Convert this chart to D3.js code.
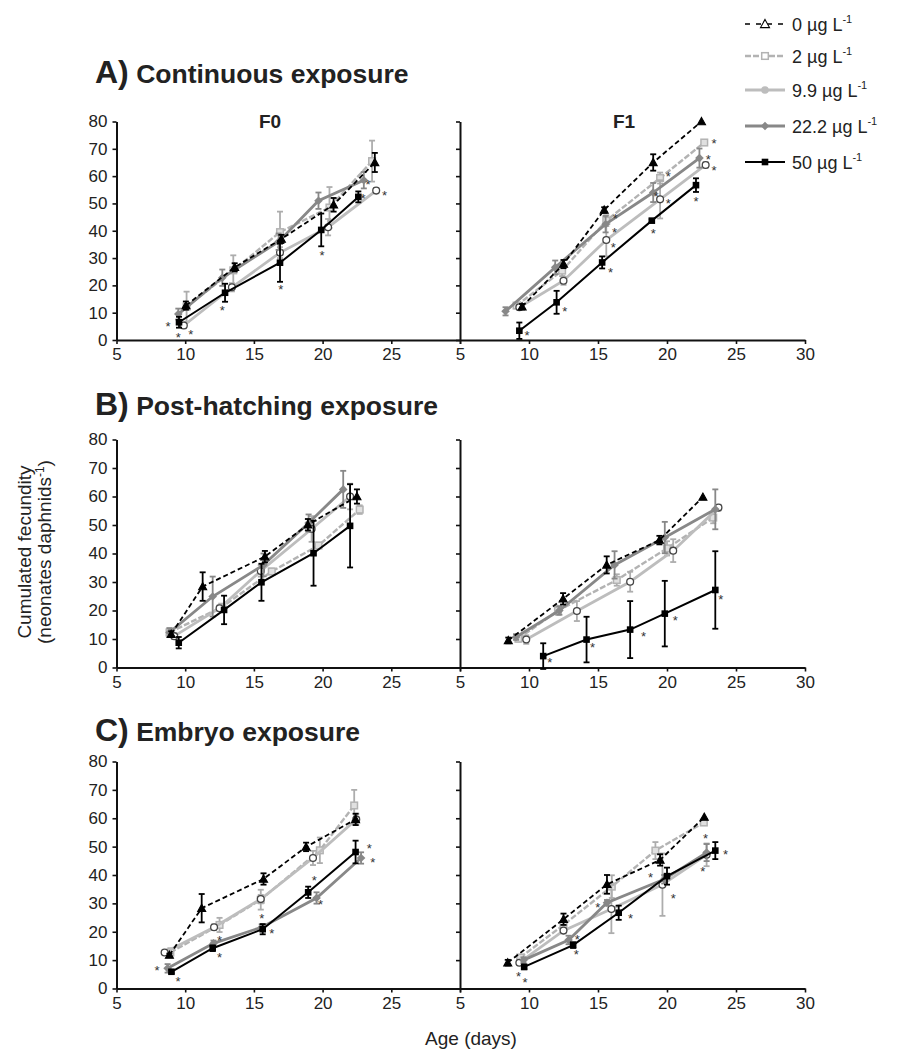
<!DOCTYPE html>
<html><head><meta charset="utf-8">
<script src="https://cdn.jsdelivr.net/npm/d3@7"></script>
<style>
body{margin:0;background:#fff}
svg{display:block}
text{font-family:"Liberation Sans",Arial,sans-serif}
</style>
</head><body>
<svg id="c" width="899" height="1051"></svg>
<script>
// ---------------- DATA ----------------
const doses = ["0", "2", "9.9", "22.2", "50"];
const xTickValues = [5, 10, 15, 20, 25, 30];
const yTickValues = [0, 10, 20, 30, 40, 50, 60, 70, 80];
const panelLetters = ["A)", "B)", "C)"];
const panelNames = ["Continuous exposure", "Post-hatching exposure", "Embryo exposure"];
const genLabels = ["F0", "F1"];

// rows = doses 0, 2, 9.9, 22.2, 50
const A_F0_age  = [[10.05,13.6,17.0,20.8,23.8],[10.1,13.5,16.9,20.5,23.6],[9.9,13.4,16.9,20.4,23.9],[9.5,12.7,16.8,19.7,23.0],[9.55,12.9,16.9,19.9,22.6]];
const A_F0_mean = [[12.6,26.6,37,49.5,65],[12.2,25.5,39.5,48.5,65.5],[5.3,19.3,32,41.3,54.7],[9.5,22.8,36,51,58.5],[6.5,17.3,28.3,40.3,52.4]];
const A_F0_err  = [[1.5,1.5,1.5,2.5,3.5],[5.5,5.5,7.5,7.5,7.5],[1,1.5,2,3,1],[2,3,3,3,3],[2,3.3,7,6,2]];
const A_F0_stars = [[8.75,5.8],[9.5,1.5],[10.4,2.6],[12.7,11.7],[16.95,19.3],[19.95,31.8],[22.95,52.5],[23.3,57.5],[24.5,53.7]];

const A_F1_age  = [[9.5,12.5,15.45,19.0,22.5],[9.1,12.4,15.6,19.5,22.7],[9.3,12.5,15.6,19.5,22.8],[8.3,11.9,15.55,19.0,22.35],[9.3,12.0,15.3,18.9,22.1]];
const A_F1_mean = [[12.2,27.8,47.6,65,80],[12.6,25.4,43.7,59.3,72.3],[12,21.7,36.6,51.5,64.1],[10.5,26.6,42.4,54,66.6],[3.4,13.8,28.4,43.7,56.7]];
const A_F1_err  = [[1,1.5,1,3,0],[1,2,2,2,0],[1,1.5,6,7,1],[1.5,2.5,3,3.5,3.5],[3,4.2,2.2,0.5,2.5]];
const A_F1_stars = [[9.85,2.2],[12.6,11],[15.9,25.6],[19.0,39.8],[22.1,51.5],[16.1,34.5],[16.2,40.2],[16.25,45.2],[20.1,50.7],[20.1,60.5],[19.2,53.4],[23.4,72.7],[23.0,66.8],[23.4,62.8]];

const B_F0_age  = [[8.98,11.27,15.8,18.93,22.5],[8.86,12.7,16.3,19.7,22.7],[9.2,12.5,15.5,19.2,22.0],[8.86,12.0,15.7,18.98,21.5],[9.53,12.83,15.55,19.34,22.0]];
const B_F0_mean = [[11.7,28.4,38.9,50.1,60],[12.3,21.3,33.7,42.8,55.4],[11,20.8,33.9,48.6,60],[12.3,24.9,36,50.7,62.5],[8.7,20.2,29.9,40.1,49.7]];
const B_F0_err  = [[1,5,2,2,2.5],[1.5,1,1,1,1.5],[1,1,2,4.5,4.5],[1.5,7,4,3,6.5],[2,5,6.5,11.4,14.6]];
const B_F0_stars = [];

const B_F1_age  = [[8.5,12.47,15.63,19.45,22.6],[9.23,12.1,16.36,20.0,23.35],[9.8,13.47,17.33,20.45,23.73],[9.06,12.2,16.2,19.84,23.5],[11.03,14.17,17.33,19.84,23.5]];
const B_F1_mean = [[9.5,24.1,36,44.7,59.8],[10.1,20,30.7,41.8,52.6],[9.8,19.8,30.1,41,56.1],[10.7,20,36,45.6,55.5],[4,9.8,13.3,18.9,27.2]];
const B_F1_err  = [[1,2,3,1.5,0],[1,1.5,2,2.5,2],[1.5,3.5,3.5,4,1],[1,1.5,4.8,5.5,7],[4.5,8,10,11.5,13.6]];
const B_F1_stars = [[11.5,2.6],[14.6,7.8],[18.3,11.6],[20.6,17.1],[23.9,24.4]];

const C_F0_age  = [[8.85,11.2,15.7,18.8,22.4],[8.92,12.5,15.5,19.8,22.3],[8.5,12.1,15.5,19.3,22.45],[8.72,12.06,15.57,19.56,22.8],[9.0,12.0,15.64,18.95,22.4]];
const C_F0_mean = [[11.8,28.3,38.6,49.9,59.6],[12.7,22.4,31.3,48.7,64.5],[12.7,21.6,31.5,46,59.6],[7.1,15.9,21.6,31.9,46],[5.9,14.2,20.9,33.9,48.1]];
const C_F0_err  = [[0.5,5,2,1.5,2],[1.5,2.5,3.5,4.5,5.5],[0.5,1,1.5,2.5,2],[1.5,1,1,2,2],[0.5,1,1.8,2,4]];
const C_F0_stars = [[7.95,7.1],[9.47,3.2],[12.5,17.7],[12.5,11.8],[15.57,25.4],[16.3,20.1],[19.4,38.6],[19.85,30.3],[23.4,50.1],[23.65,45.2]];

const C_F1_age  = [[8.46,12.5,15.65,19.5,22.7],[9.36,12.5,16.0,19.16,22.67],[9.3,12.5,15.97,19.67,22.87],[9.6,12.87,15.65,19.8,22.87],[9.65,13.2,16.5,20.0,23.5]];
const C_F1_mean = [[9.1,24.4,36.7,45.3,60.4],[10.9,22.4,35.9,48.6,58.5],[9.1,20.4,28,36.6,47.1],[10,17.1,30.2,38.5,47.9],[7.6,15.3,26.7,39.6,48.6]];
const C_F1_err  = [[1,2,3.3,2,0],[1,1.5,4,3,0.5],[0.5,1,8.5,11,4],[1,1.5,1,1.5,3],[0.8,1,2.5,3,3]];
const C_F1_stars = [[9.24,5],[9.72,2.9],[13.5,18],[13.43,12.6],[14.98,29.1],[17.35,25.5],[18.8,40],[20.45,32.4],[22.8,53.5],[22.6,42],[24.25,47.9]];

// ---------------- LAYOUT / STYLE ----------------
const colX = [[116.5, 460], [460, 805]];
const rowY = [[340, 121.5], [667.5, 439.5], [988.5, 761.5]];
const titleBase = [83, 415, 741];
const FONT = '"Liberation Sans", Arial, sans-serif';

const styles = [
  {color:"#000000", width:1.8, dash:"5,3", marker:"tri"},
  {color:"#b3b3b3", width:2.4, dash:"6,2", marker:"sq"},
  {color:"#bdbdbd", width:2.8, dash:null,  marker:"circ"},
  {color:"#888888", width:2.8, dash:null,  marker:"dia"},
  {color:"#000000", width:2,   dash:null,  marker:"fsq"}
];
const drawOrder = [1, 2, 3, 4, 0];

const svg = d3.select("#c");

const panels = [
  {r:0,c:0,age:A_F0_age,mean:A_F0_mean,err:A_F0_err,stars:A_F0_stars},
  {r:0,c:1,age:A_F1_age,mean:A_F1_mean,err:A_F1_err,stars:A_F1_stars},
  {r:1,c:0,age:B_F0_age,mean:B_F0_mean,err:B_F0_err,stars:B_F0_stars},
  {r:1,c:1,age:B_F1_age,mean:B_F1_mean,err:B_F1_err,stars:B_F1_stars},
  {r:2,c:0,age:C_F0_age,mean:C_F0_mean,err:C_F0_err,stars:C_F0_stars},
  {r:2,c:1,age:C_F1_age,mean:C_F1_mean,err:C_F1_err,stars:C_F1_stars}
];

function drawMarker(g, type, cx, cy, color, legend) {
  if (type === "tri") {
    const s = legend ? 4.5 : 4;
    g.append("path").attr("d", `M${cx},${cy-s}L${cx+s},${cy+s*0.8}L${cx-s},${cy+s*0.8}Z`)
      .attr("fill", legend ? "#fff" : "#000").attr("stroke", "#000").attr("stroke-width", 1.1);
  } else if (type === "sq") {
    g.append("rect").attr("x", cx-3.3).attr("y", cy-3.3).attr("width", 6.6).attr("height", 6.6)
      .attr("fill", legend ? "#fff" : "#e0e0e0").attr("stroke", color).attr("stroke-width", 1.5);
  } else if (type === "circ") {
    if (legend) {
      g.append("circle").attr("cx", cx).attr("cy", cy).attr("r", 3.8).attr("fill", color);
    } else {
      g.append("circle").attr("cx", cx).attr("cy", cy).attr("r", 3.4)
        .attr("fill", "#fff").attr("stroke", "#444").attr("stroke-width", 1.3);
    }
  } else if (type === "dia") {
    const s = 4.3;
    g.append("path").attr("d", `M${cx},${cy-s}L${cx+s},${cy}L${cx},${cy+s}L${cx-s},${cy}Z`).attr("fill", color);
  } else if (type === "fsq") {
    g.append("rect").attr("x", cx-3.3).attr("y", cy-3.3).attr("width", 6.6).attr("height", 6.6).attr("fill", "#000");
  }
}

panels.forEach(p => {
  const x = d3.scaleLinear().domain([5, 30]).range(colX[p.c]);
  const y = d3.scaleLinear().domain([0, 80]).range(rowY[p.r]);
  const g = svg.append("g");

  // axes
  const ya = d3.axisLeft(y).tickValues(yTickValues).tickSize(4).tickSizeOuter(0).tickPadding(5);
  if (p.c === 1) ya.tickFormat("");
  const yg = g.append("g").attr("transform", `translate(${colX[p.c][0]},0)`).call(ya);
  const xa = d3.axisBottom(x).tickValues(xTickValues).tickSize(4).tickSizeOuter(0).tickPadding(4)
    .tickFormat(d => (p.c === 0 && d === 30) ? "" : d);
  const xg = g.append("g").attr("transform", `translate(0,${rowY[p.r][0]})`).call(xa);
  [yg, xg].forEach(a => {
    a.attr("font-family", FONT).attr("font-size", 17);
    a.selectAll("path.domain").attr("stroke", "#111").attr("stroke-width", 2);
    a.selectAll(".tick line").attr("stroke", "#111").attr("stroke-width", 1.6);
    a.selectAll(".tick text").attr("fill", "#222");
  });

  // series
  drawOrder.forEach(si => {
    const st = styles[si];
    const pts = p.age[si].map((a, i) => ({a, m: p.mean[si][i], e: p.err[si][i]}));
    const sg = g.append("g");
    sg.append("path").datum(pts)
      .attr("d", d3.line().x(d => x(d.a)).y(d => y(d.m)))
      .attr("fill", "none").attr("stroke", st.color).attr("stroke-width", st.width)
      .attr("stroke-dasharray", st.dash);
    const ebColor = si === 0 || si === 4 ? "#000" : (si === 3 ? "#888888" : "#adadad");
    pts.forEach(d => {
      if (d.e <= 0) return;
      const px = x(d.a), y1 = y(d.m + d.e), y2 = y(d.m - d.e);
      sg.append("line").attr("x1", px).attr("x2", px).attr("y1", y1).attr("y2", y2)
        .attr("stroke", ebColor).attr("stroke-width", 1.8);
      [y1, y2].forEach(yy => sg.append("line").attr("x1", px-3).attr("x2", px+3)
        .attr("y1", yy).attr("y2", yy).attr("stroke", ebColor).attr("stroke-width", 1.8));
    });
    pts.forEach(d => drawMarker(sg, st.marker, x(d.a), y(d.m), st.color, false));
  });

  // significance stars
  g.selectAll("text.star").data(p.stars).enter().append("text").attr("class", "star")
    .attr("x", d => x(d[0])).attr("y", d => y(d[1]) + 6.5)
    .attr("text-anchor", "middle").attr("font-size", 13).attr("fill", "#333").text("*");

  if (p.r === 0) {
    g.append("text").attr("x", p.c === 0 ? 270 : 624).attr("y", 128)
      .attr("text-anchor", "middle").attr("font-weight", "bold").attr("font-size", 19)
      .attr("fill", "#222").text(genLabels[p.c]);
  }
});

// panel titles
panelLetters.forEach((L, i) => {
  const t = svg.append("text").attr("x", 95).attr("y", titleBase[i]).attr("font-weight", "bold").attr("fill", "#222");
  t.append("tspan").attr("font-size", 32).text(L);
  t.append("tspan").attr("font-size", 26.5).text(" " + panelNames[i]);
});

// axis titles
svg.append("text").attr("x", 471).attr("y", 1045).attr("text-anchor", "middle")
  .attr("font-size", 19).attr("fill", "#222").text("Age (days)");
const yt = svg.append("text").attr("transform", "translate(0,552) rotate(-90)")
  .attr("text-anchor", "middle").attr("font-size", 19).attr("fill", "#222");
yt.append("tspan").attr("x", 0).attr("y", 31).text("Cumulated fecundity");
const t2 = yt.append("tspan").attr("x", 0).attr("y", 51);
t2.append("tspan").text("(neonates daphnids");
t2.append("tspan").attr("font-size", 12).attr("dy", -7).text("-1");
t2.append("tspan").attr("dy", 7).text(")");

// legend
const legY = [24, 56, 90, 126, 162];
doses.forEach((d, i) => {
  const st = styles[i];
  const lg = svg.append("g");
  lg.append("line").attr("x1", 745).attr("x2", 785).attr("y1", legY[i]).attr("y2", legY[i])
    .attr("stroke", st.color).attr("stroke-width", i === 0 ? 1.3 : st.width)
    .attr("stroke-dasharray", i === 0 ? "5,6" : st.dash);
  drawMarker(lg, st.marker, 765, legY[i], st.color, true);
  const tx = lg.append("text").attr("x", 792).attr("y", legY[i] + 6.5).attr("font-size", 18).attr("fill", "#222");
  tx.append("tspan").text(d + " \u00b5g L");
  tx.append("tspan").attr("font-size", 11).attr("dy", -8).text("-1");
});
</script>
</body></html>
